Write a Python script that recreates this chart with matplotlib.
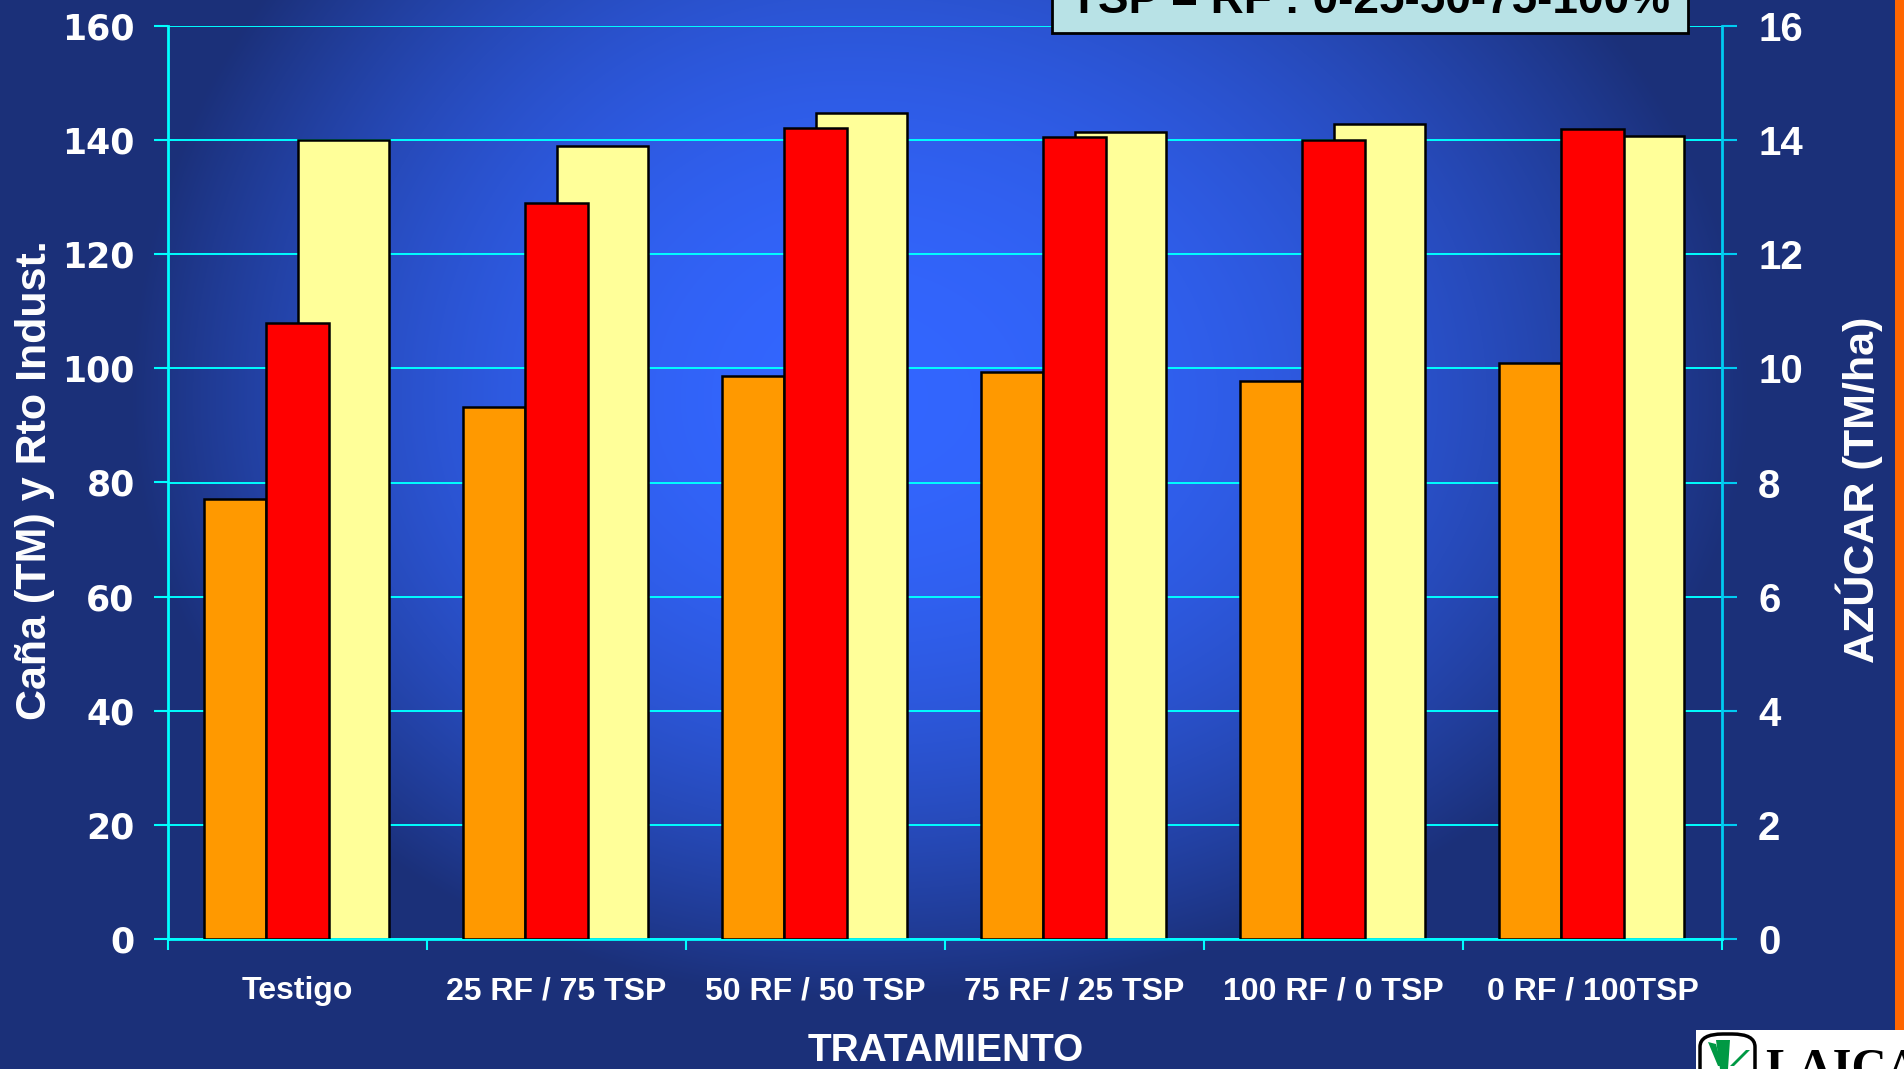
import numpy as np
import matplotlib
matplotlib.use('Agg')
import matplotlib.pyplot as plt
from matplotlib.patches import Rectangle, FancyBboxPatch, Polygon

# ---------------- data ----------------
categories = ['Testigo', '25 RF / 75 TSP', '50 RF / 50 TSP',
              '75 RF / 25 TSP', '100 RF / 0 TSP', '0 RF / 100TSP']
cana_tm = [77.1, 93.2, 98.7, 99.3, 97.8, 101.0]          # orange, left axis
rto_indust = [107.9, 129.0, 142.2, 140.5, 140.0, 141.9]  # red, left axis
azucar_tm_ha = [14.01, 13.90, 14.48, 14.15, 14.29, 14.08]  # yellow, right axis
left_ticks = [0, 20, 40, 60, 80, 100, 120, 140, 160]
right_ticks = [0, 2, 4, 6, 8, 10, 12, 14, 16]

W, H = 1904, 1069
fig = plt.figure(figsize=(W / 100, H / 100), dpi=100)


def fx(px):
    return px / W


def fy(py):
    return 1 - py / H


# ---------------- background gradient ----------------
bg = fig.add_axes([0, 0, 1, 1], zorder=-5)
yy, xx = np.mgrid[0:H, 0:W].astype(float)
cx, cy = 850.0, 400.0
rx = np.where(xx < cx, 720.0, 900.0)
ry = np.where(yy < cy, 700.0, 600.0)
d2 = ((xx - cx) / rx) ** 2 + ((yy - cy) / ry) ** 2
f = np.clip(1 - d2, 0, 1)
edge = np.array([27, 48, 121]) / 255
center = np.array([51, 102, 255]) / 255
img = edge + f[..., None] * (center - edge)
bg.imshow(img, aspect='auto', extent=[0, W, H, 0], interpolation='bilinear')
bg.set_xlim(0, W)
bg.set_ylim(H, 0)
bg.set_axis_off()

# ---------------- main axes ----------------
ax = fig.add_axes([fx(168), fy(939), fx(1722) - fx(168), (939 - 26) / H])
ax2 = ax.twinx()
ax.set_zorder(2)
ax2.set_zorder(1)
ax.patch.set_visible(False)
ax2.patch.set_visible(False)

x = np.arange(len(categories))
ax2.bar(x + 0.1765, azucar_tm_ha, width=0.353, color='#FFFF99',
        edgecolor='black', linewidth=1.8, zorder=3)
ax.bar(x - 0.24, cana_tm, width=0.24, color='#FF9900',
       edgecolor='black', linewidth=1.8, zorder=3)
ax.bar(x, rto_indust, width=0.24, color='#FF0000',
       edgecolor='black', linewidth=1.8, zorder=3)

ax.set_xlim(-0.5, 5.5)
ax.set_ylim(0, 160)
ax2.set_ylim(0, 16)

cyan = '#00FFFF'
cyan_r = '#00CCF2'
ax2.set_axisbelow(True)
ax2.set_yticks(right_ticks)
ax2.yaxis.grid(True, color=cyan, linewidth=1.4)
ax.set_yticks(left_ticks)

for s in ['top', 'right']:
    ax.spines[s].set_visible(False)
for s in ['top', 'left', 'bottom']:
    ax2.spines[s].set_visible(False)
ax.spines['left'].set_color(cyan)
ax.spines['bottom'].set_color(cyan)
ax.spines['left'].set_linewidth(2)
ax.spines['bottom'].set_linewidth(2)
ax2.spines['right'].set_color(cyan_r)
ax2.spines['right'].set_linewidth(2)

# x ticks: marks at boundaries, labels at centres
ax.set_xticks(np.arange(-0.5, 6.0, 1.0))
ax.set_xticklabels([])
ax.set_xticks(x, minor=True)
ax.set_xticklabels(categories, minor=True)
ax.tick_params(axis='x', which='major', length=8, width=1.5, color=cyan, direction='out')
ax.tick_params(axis='x', which='minor', length=0, pad=27, labelsize=23, labelcolor='white')
for lab in ax.get_xticklabels(minor=True):
    lab.set_fontfamily('Liberation Sans')
    lab.set_fontweight('bold')

ax.tick_params(axis='y', length=10, width=1.5, color=cyan, direction='out',
               pad=14, labelsize=25, labelcolor='white')
for lab in ax.get_yticklabels():
    lab.set_fontfamily('DejaVu Sans')
    lab.set_fontweight('bold')

ax2.tick_params(axis='y', length=11, width=1.5, color=cyan_r, direction='out',
                pad=15, labelsize=29, labelcolor='white')
for lab in ax2.get_yticklabels():
    lab.set_fontfamily('Liberation Sans')
    lab.set_fontweight('bold')

# axis titles
fig.text(fx(35), fy(480), 'Caña (TM) y Rto Indust.', rotation=90, ha='center', va='center',
         color='white', fontsize=31, fontweight='bold', family='Liberation Sans')
fig.text(fx(1859), fy(490), 'AZÚCAR (TM/ha)', rotation=90, ha='center', va='center',
         color='white', fontsize=31, fontweight='bold', family='Liberation Sans')
fig.text(fx(946), fy(1061), 'TRATAMIENTO', ha='center', va='baseline',
         color='white', fontsize=28, fontweight='bold', family='Liberation Sans')

# title box (cut off at the top)
fig.add_artist(Rectangle((fx(1052), fy(33)), fx(1688) - fx(1052), 60 / H,
                         transform=fig.transFigure, facecolor='#B8E2E6',
                         edgecolor='black', linewidth=2, zorder=10))
fig.text(fx(1370), fy(13), 'TSP = RF : 0-25-50-75-100%', ha='center', va='baseline',
         color='black', fontsize=33, fontweight='bold', family='Liberation Sans', zorder=11)

# orange strip on the right
fig.add_artist(Rectangle((fx(1895), fy(1030)), fx(W) - fx(1895), 1030 / H,
                         transform=fig.transFigure, facecolor='#FF6600',
                         edgecolor='none', zorder=10))

# logo area bottom-right
fig.add_artist(Rectangle((fx(1696), 0), fx(W) - fx(1696), (H - 1030) / H,
                         transform=fig.transFigure, facecolor='white',
                         edgecolor='none', zorder=10))
fig.add_artist(FancyBboxPatch((fx(1700), fy(1085)), fx(1755) - fx(1700), 51 / H,
                              boxstyle='round,pad=0,rounding_size=0.012',
                              transform=fig.transFigure, facecolor='white',
                              edgecolor='black', linewidth=2.5, zorder=11))
green = '#009944'
fig.add_artist(Polygon([(fx(1716), fy(1040)), (fx(1730), fy(1040)), (fx(1728), fy(1069)),
                        (fx(1720), fy(1069))], closed=True, transform=fig.transFigure,
                       facecolor=green, edgecolor='none', zorder=12))
fig.add_artist(Polygon([(fx(1708), fy(1042)), (fx(1716), fy(1044)), (fx(1722), fy(1066)),
                        (fx(1718), fy(1066))], closed=True, transform=fig.transFigure,
                       facecolor=green, edgecolor='none', zorder=12))
fig.add_artist(Polygon([(fx(1750), fy(1050)), (fx(1746), fy(1050)), (fx(1730), fy(1066)),
                        (fx(1734), fy(1066))], closed=True, transform=fig.transFigure,
                       facecolor=green, edgecolor='none', zorder=12))
fig.text(fx(1765), fy(1082), 'LAICA', ha='left', va='baseline', color='black',
         fontsize=35, family='Liberation Serif', fontweight='bold', zorder=12)

fig.savefig('out.png', dpi=100)
